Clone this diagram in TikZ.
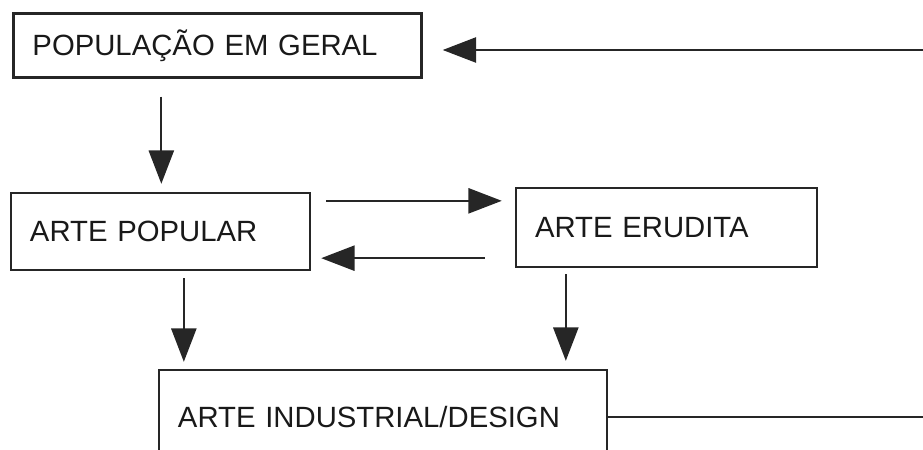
\documentclass[tikz,border=0pt]{standalone}
\usepackage{fontspec}
\setmainfont{Liberation Sans}
\usetikzlibrary{arrows.meta}

\begin{document}
\begin{tikzpicture}[x=0.03cm, y=-0.03cm,
    caixa/.style={draw=black!85, line width=2pt, align=left, inner xsep=0.57cm,
        inner ysep=0pt, text=black!90, font=\fontsize{25}{30}\selectfont},
    seta/.style={draw=black!85, line width=2pt, -{Triangle[length=1cm, width=0.75cm]}}]
    \clip (0,0) rectangle (923,450);

    % caixas
    \node[caixa, minimum height=1.92cm, text width=11.1cm] (pop) at (217.5,45.5) {POPULAÇÃO EM GERAL};
    \node[caixa, minimum height=2.31cm, text width=7.83cm] (popular) at (160.5,231.5) {ARTE POPULAR};
    \node[caixa, minimum height=2.37cm, text width=7.89cm] (erudita) at (666.5,227.5) {ARTE ERUDITA};
    \node[caixa, minimum height=2.82cm, text width=12.3cm] (industrial) at (383,417) {ARTE INDUSTRIAL/DESIGN};

    % retorno (sai pela direita)
    \coordinate (fbtopo) at (930,50);
    \coordinate (fbbase) at (930,417);
    \draw[seta, shorten >=0.6cm] (fbtopo) -- (fbtopo -| pop.east);
    \draw[draw=black!85, line width=2pt] (industrial.east) -- (industrial.east -| fbbase);

    % populacao -> arte popular
    \coordinate (p1) at ([xshift=4.47cm]pop.south west);
    \draw[seta, shorten <=0.54cm, shorten >=0.24cm] (p1) -- (p1 |- popular.north);

    % entre popular e erudita
    \coordinate (p2) at ([yshift=-0.27cm]popular.north east);
    \draw[seta, shorten <=0.45cm, shorten >=0.39cm] (p2) -- (p2 -| erudita.west);
    \coordinate (p3) at ([yshift=0.3cm]erudita.south west);
    \draw[seta, shorten <=0.9cm, shorten >=0.3cm] (p3) -- (p3 -| popular.east);

    % para arte industrial
    \coordinate (p4) at ([xshift=5.22cm]popular.south west);
    \draw[seta, shorten <=0.21cm, shorten >=0.21cm] (p4) -- (p4 |- industrial.north);
    \coordinate (p5) at ([xshift=1.53cm]erudita.south west);
    \draw[seta, shorten <=0.18cm, shorten >=0.24cm] (p5) -- (p5 |- industrial.north);
\end{tikzpicture}
\end{document}
